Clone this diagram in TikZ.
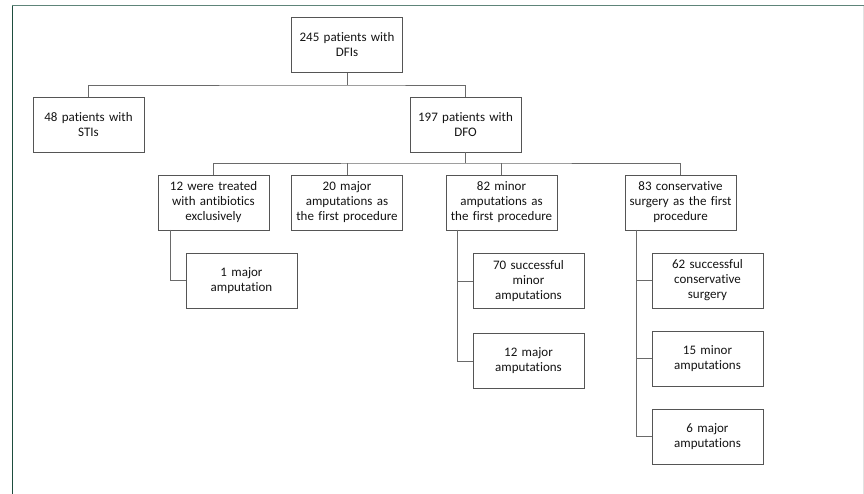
\documentclass[tikz,border=0pt]{standalone}
\usepackage{fontspec}
\setmainfont{Carlito}[Ligatures=NoCommon]
\definecolor{boxgray}{HTML}{555555}
\definecolor{linkgray}{HTML}{6A6A6A}
\definecolor{leftgreen}{HTML}{1E4D3E}
\definecolor{topgreen}{HTML}{5E8479}
\definecolor{rightgray}{HTML}{E2E2E2}
\begin{document}
\begin{tikzpicture}[x=1pt,y=-1pt,
  box/.style={draw=boxgray,line width=0.9pt,fill=white,minimum width=111pt,minimum height=55pt,
    text width=108pt,align=center,inner sep=0pt,text=black!92,font=\fontsize{13}{15}\selectfont},
  link/.style={draw=linkgray,line width=0.9pt}]
\useasboundingbox (0,0) rectangle (864,494);
\fill[white] (0,0) rectangle (864,494);
% frame
\draw[leftgreen,line width=1.4pt] (12.3,5) -- (12.3,494);
\draw[topgreen,line width=1.4pt] (12,5.6) -- (864,5.6);
\draw[rightgray,line width=1pt] (863.3,6) -- (863.3,494);
% nodes
\node[box] (n245) at (347,45) {245 patients with\\DFIs};
\node[box] (n48) at (88.5,124.5) {48 patients with\\STIs};
\node[box] (n197) at (465.5,124.5) {197 patients with\\DFO};
\node[box] (n12) at (213.5,202.5) {12 were treated\\with antibiotics\\exclusively};
\node[box] (n20) at (347,202.5) {20 major\\amputations as\\the first procedure};
\node[box] (n82) at (501.5,202.5) {82 minor\\amputations as\\the first procedure};
\node[box] (n83) at (680.5,202.5) {83 conservative\\surgery as the first\\procedure};
\node[box] (n1) at (241.5,280.5) {1 major\\amputation};
\node[box] (n70) at (528.5,281) {70 successful\\minor\\amputations};
\node[box] (n12m) at (528.5,361) {12 major\\amputations};
\node[box] (n62) at (707.5,280.5) {62 successful\\conservative\\surgery};
\node[box] (n15) at (707.5,358.5) {15 minor\\amputations};
\node[box] (n6) at (707.5,436.5) {6 major\\amputations};
% connectors
\coordinate (b1) at (347,85);
\coordinate (b2) at (465.5,163);
\coordinate (v1) at (170,230);
\coordinate (v2) at (457,230);
\coordinate (v3) at (636,230);
\draw[link] (n245.south) -- (b1);
\draw[link] (n48.north) |- (b1) -| (n197.north);
\draw[link] (n197.south) -- (b2);
\draw[link] (n12.north) |- (b2) -| (n83.north);
\draw[link] (n20.north) -- (n20.north |- b2);
\draw[link] (n82.north) -- (n82.north |- b2);
\draw[link] (v1) |- (n1.west);
\draw[link] (v2) |- (n12m.west);
\draw[link] (v2 |- n70.west) -- (n70.west);
\draw[link] (v3) |- (n6.west);
\draw[link] (v3 |- n62.west) -- (n62.west);
\draw[link] (v3 |- n15.west) -- (n15.west);
\end{tikzpicture}
\end{document}
